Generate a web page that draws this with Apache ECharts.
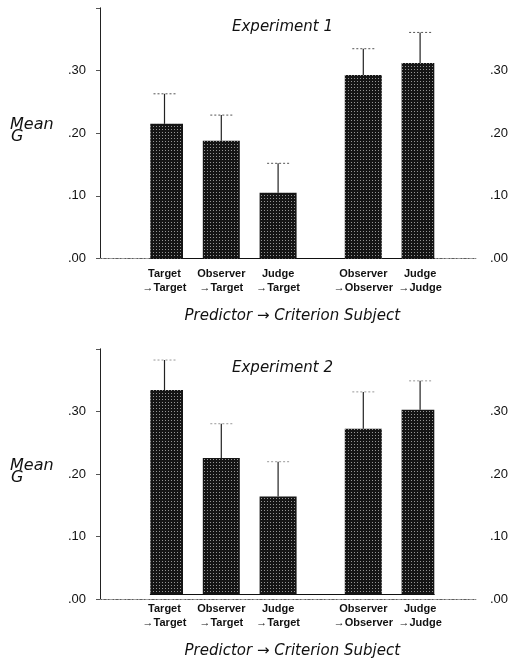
<!DOCTYPE html>
<html><head><meta charset="utf-8">
<script src="https://cdn.jsdelivr.net/npm/echarts@6/dist/echarts.min.js"></script>
<style>html,body{margin:0;padding:0;background:#fff}#c{width:511px;height:660px}</style>
</head><body><div id="c"></div>
<script>
// ---- data ----
const categories = ['Target\n→Target', 'Observer\n→Target', 'Judge\n→Target', 'Observer\n→Observer', 'Judge\n→Judge'];
const exp1Means = [0.215, 0.188, 0.105, 0.293, 0.312];
const exp1Upper = [0.263, 0.229, 0.152, 0.335, 0.361];
const exp2Means = [0.333, 0.222, 0.159, 0.270, 0.301];
const exp2Upper = [0.382, 0.278, 0.216, 0.330, 0.348];
const panelTitles = ['Experiment 1', 'Experiment 2'];
const xTitle = 'Predictor → Criterion Subject';
const yTitleTop = 'Mean';
const yTitleBottom = 'G';
const yMin = 0, yMax = 0.4, yStep = 0.1;

// ---- layout ----
const slotOf = [0, 2, 4, 7, 9]; // slot index of each bar (gap between groups)
const nSlots = 10;
const slotW = 28.4;
const panels = [
  {top: 8, h: 250.5, means: exp1Means, upper: exp1Upper},
  {top: 349, h: 250, means: exp2Means, upper: exp2Upper}
];
const frameLeft = 100, frameRight = 511 - 478;
const barLeft = 150.3, barRight = 511 - (150.3 + nSlots * slotW);

const slotCats = Array.from({length: nSlots}, (_, i) => {
  const k = slotOf.indexOf(i);
  return k >= 0 ? categories[k] : '';
});
const fmt = v => (Math.abs(v - yMax) < 1e-9) ? '' : v.toFixed(2).replace(/^0/, '');

const grid = [], xAxis = [], yAxis = [], series = [], graphic = [];
panels.forEach((p, pi) => {
  const gFrame = grid.length;
  grid.push({left: frameLeft, right: frameRight, top: p.top, height: p.h});
  const gBar = grid.length;
  grid.push({left: barLeft, right: barRight, top: p.top, height: p.h});

  // frame axes
  xAxis.push({gridIndex: gFrame, type: 'value', min: 0, max: 1, position: 'bottom',
    axisLine: {show: true, lineStyle: {color: '#444', type: [2, 2], width: 1}},
    axisTick: {show: false}, axisLabel: {show: false}, splitLine: {show: false}});
  xAxis.push({gridIndex: gFrame, type: 'value', min: 0, max: 1, position: 'top',
    axisLine: {show: true, lineStyle: {color: '#888', type: [1, 2], width: 1}},
    axisTick: {show: false}, axisLabel: {show: false}, splitLine: {show: false}});
  yAxis.push({gridIndex: gFrame, type: 'value', min: yMin, max: yMax, interval: yStep, position: 'left',
    axisLine: {show: true, lineStyle: {color: '#555', width: 1}},
    axisTick: {show: true, length: 4, lineStyle: {color: '#555'}},
    axisLabel: {formatter: fmt, margin: 14, color: '#111', fontFamily: 'Liberation Sans', fontSize: 13},
    splitLine: {show: false}});
  yAxis.push({gridIndex: gFrame, type: 'value', min: yMin, max: yMax, interval: yStep, position: 'right',
    axisLine: {show: true, lineStyle: {color: '#222', width: 1}},
    axisTick: {show: true, inside: true, length: 4, lineStyle: {color: '#555'}},
    axisLabel: {formatter: fmt, margin: 14, color: '#111', fontFamily: 'Liberation Sans', fontSize: 13},
    splitLine: {show: false}});

  // bar axes
  const xBar = xAxis.length;
  xAxis.push({gridIndex: gBar, type: 'category', data: slotCats,
    axisLine: {show: true, lineStyle: {color: '#111', width: 1}},
    axisTick: {show: false},
    axisLabel: {interval: 0, margin: 8, color: '#111', fontFamily: 'Liberation Sans', fontWeight: 'bold',
      fontSize: 11, lineHeight: 14},
    name: xTitle, nameLocation: 'middle', nameGap: 50,
    nameTextStyle: {fontFamily: 'DejaVu Sans', fontStyle: 'italic', fontSize: 15, color: '#111'}});
  const yBar = yAxis.length;
  yAxis.push({gridIndex: gBar, type: 'value', min: yMin, max: yMax, interval: yStep, show: false});

  const barData = slotCats.map((_, i) => {
    const k = slotOf.indexOf(i);
    return k >= 0 ? p.means[k] : '-';
  });
  series.push({type: 'bar', xAxisIndex: xBar, yAxisIndex: yBar, data: barData, barWidth: 37,
    itemStyle: {color: '#151515',
      decal: {symbol: 'rect', symbolSize: 1, color: 'rgba(255,255,255,0.55)',
        dashArrayX: [1, 2], dashArrayY: [1, 2], rotation: 0}},
    silent: true, animation: false});

  const errData = p.means.map((m, k) => [slotOf[k], m, p.upper[k]]);
  series.push({type: 'custom', xAxisIndex: xBar, yAxisIndex: yBar, data: errData, animation: false, silent: true,
    renderItem: (params, api) => {
      const lo = api.coord([api.value(0), api.value(1)]);
      const hi = api.coord([api.value(0), api.value(2)]);
      const capHalf = 11;
      return {type: 'group', children: [
        {type: 'line', shape: {x1: lo[0], y1: lo[1], x2: hi[0], y2: hi[1]},
          style: {stroke: '#222', lineWidth: 1.2}},
        {type: 'line', shape: {x1: hi[0] - capHalf, y1: hi[1], x2: hi[0] + capHalf, y2: hi[1]},
          style: {stroke: pi === 0 ? '#555' : '#999', lineWidth: 1, lineDash: [2, 2]}}
      ]};
    }});

  const off = p.top - 8;
  graphic.push({type: 'text', left: 289 - 57, top: off + 20,
    style: {text: panelTitles[pi], font: 'italic 15px "DejaVu Sans"', fill: '#111'}});
  graphic.push({type: 'text', left: 10, top: off + 117,
    style: {text: yTitleTop, font: 'italic 16px "DejaVu Sans"', fill: '#111'}});
  graphic.push({type: 'text', left: 11, top: off + 129,
    style: {text: yTitleBottom, font: 'italic 16px "DejaVu Sans"', fill: '#111'}});
});

const chart = echarts.init(document.getElementById('c'), null, {renderer: 'canvas'});
chart.setOption({animation: false, grid, xAxis, yAxis, series, graphic});
</script></body></html>
